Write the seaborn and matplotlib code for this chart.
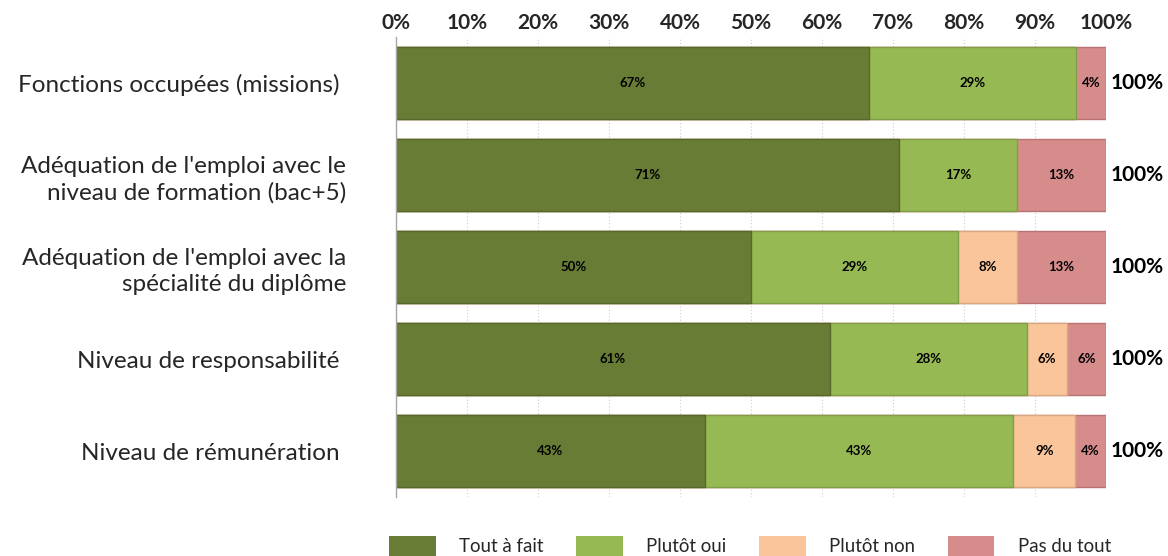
import math
import matplotlib
matplotlib.use("Agg")
import matplotlib.pyplot as plt
import seaborn as sns
import pandas as pd
from matplotlib.patches import Patch

categories = ["Fonctions occupées (missions) ",
              "Adéquation de l'emploi avec le\nniveau de formation (bac+5)",
              "Adéquation de l'emploi avec la\nspécialité du diplôme",
              "Niveau de responsabilité ",
              "Niveau de rémunération "]
series = ["Tout à fait", "Plutôt oui", "Plutôt non", "Pas du tout"]
tout_a_fait = [66.67, 70.83, 50.00, 61.11, 43.48]
plutot_oui = [29.17, 16.67, 29.17, 27.78, 43.48]
plutot_non = [0.00, 0.00, 8.33, 5.56, 8.70]
pas_du_tout = [4.17, 12.50, 12.50, 5.56, 4.35]
totals = ["100%"] * 5
xticks = [0, 10, 20, 30, 40, 50, 60, 70, 80, 90, 100]

colors = ["#687C35", "#97B954", "#FAC59B", "#D78C8C"]
edges = ["#56682a", "#7f9e45", "#d9a880", "#b87272"]

sns.set_theme(style="white")
plt.rcParams['font.family'] = ['Lato', 'DejaVu Sans']

df = pd.DataFrame({"cat": categories, series[0]: tout_a_fait, series[1]: plutot_oui,
                   series[2]: plutot_non, series[3]: pas_du_tout})
vals = df[series].values
cum = vals.cumsum(axis=1)

fig = plt.figure(figsize=(11.68, 5.56), dpi=100)
ax = fig.add_axes([396/1168, 1-497/556, 710/1168, 460/556])

for j in range(len(series) - 1, -1, -1):
    d = pd.DataFrame({"cat": categories, "v": cum[:, j]})
    sns.barplot(data=d, x="v", y="cat", orient="h", color=colors[j], saturation=1,
                edgecolor=edges[j], linewidth=1.0, width=0.79, ax=ax, zorder=2)

def fmt(v):
    return f"{int(math.floor(v + 0.5))}%"

for i in range(len(categories)):
    left = 0
    for j in range(len(series)):
        v = vals[i, j]
        if v > 0:
            ax.text(left + v / 2, i, fmt(v), ha="center", va="center",
                    fontsize=9.5, fontweight="bold", color="black", zorder=3)
        left += v
    ax.text(cum[i, -1] + 0.6, i, totals[i], ha="left", va="center",
            fontsize=15, fontweight="bold", color="black", clip_on=False)

ax.set_xlim(0, 100)
ax.set_ylim(4.5, -0.5)
ax.set_xticks(xticks)
ax.set_xticklabels([f"{t}%" for t in xticks], fontsize=15, fontweight="bold")
ax.xaxis.tick_top()
ax.tick_params(axis="x", length=0, pad=3)
ax.tick_params(axis="y", length=0, pad=36, labelsize=17.5)
for lab in ax.get_yticklabels():
    lab.set_linespacing(1.32)
ax.set_xlabel("")
ax.set_ylabel("")
ax.grid(axis="x", linestyle=(0, (1, 2)), color="#cccccc", linewidth=0.8, zorder=0)
ax.set_axisbelow(True)
for s in ["top", "right", "bottom"]:
    ax.spines[s].set_visible(False)
ax.spines["left"].set_color("#a6a6a6")
ax.spines["left"].set_linewidth(1.0)

handles = [Patch(facecolor=c, edgecolor="none") for c in colors]
fig.legend(handles, series, loc="center", bbox_to_anchor=(750/1168, 1-546/556), ncol=4,
           frameon=False, fontsize=13.4, handlelength=2.52, handleheight=1.2,
           handletextpad=1.24, columnspacing=1.75)

fig.savefig("out.png", dpi=100)
